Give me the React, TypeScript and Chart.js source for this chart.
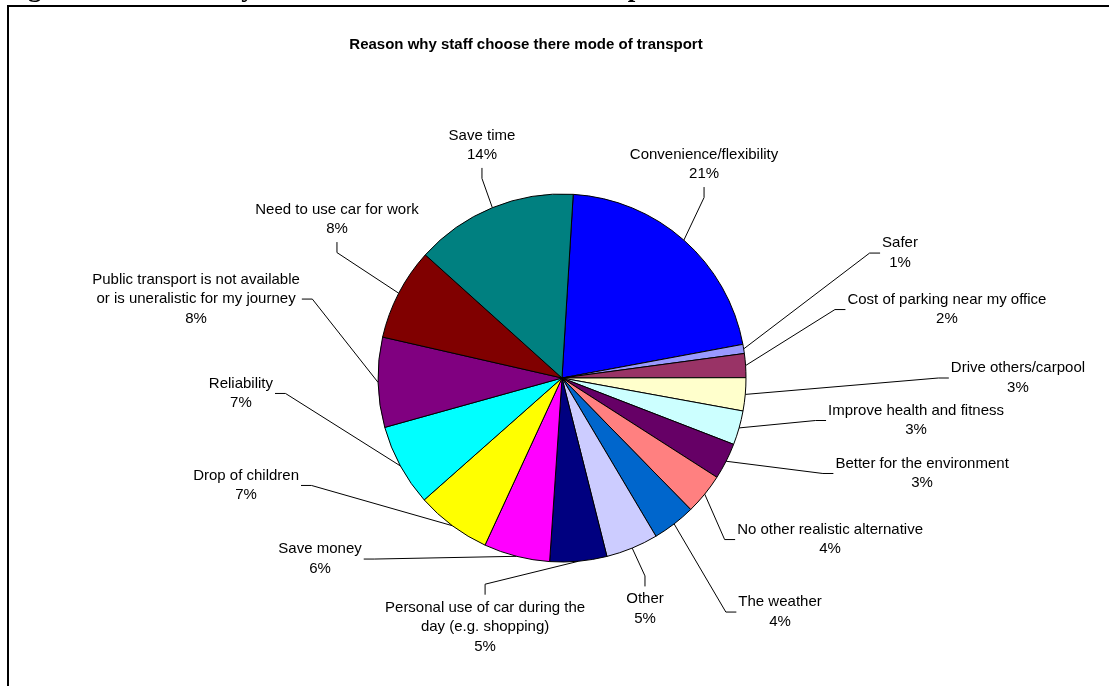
import React, { useEffect, useRef } from "react";
import { Chart, registerables } from "chart.js";

Chart.register(...registerables);

// ---- data ----
const CATEGORIES: string[] = [
  "Convenience/flexibility",
  "Safer",
  "Cost of parking near my office",
  "Drive others/carpool",
  "Improve health and fitness",
  "Better for the environment",
  "No other realistic alternative",
  "The weather",
  "Other",
  "Personal use of car during the\nday (e.g. shopping)",
  "Save money",
  "Drop of children",
  "Reliability",
  "Public transport is not available\nor is uneralistic for my journey",
  "Need to use car for work",
  "Save time",
];

const VALUES: number[] = [
  21.1, 0.8, 2.1, 2.9, 3.0, 3.2, 3.6, 3.8, 4.6, 5.0, 5.8, 6.6, 7.2, 7.9, 8.1, 14.3,
];

const COLORS: string[] = [
  "#0000FF",
  "#9999FF",
  "#993366",
  "#FFFFCC",
  "#CCFFFF",
  "#660066",
  "#FF8080",
  "#0066CC",
  "#CCCCFF",
  "#000080",
  "#FF00FF",
  "#FFFF00",
  "#00FFFF",
  "#800080",
  "#800000",
  "#008080",
];

const TITLE = "Reason why staff choose there mode of transport";
const HEADING = "Figure 1: Reason why staff choose there mode of transport";

// label placement relative to pie centre, in pie radii; side the leader line attaches to
const LABEL_LAYOUT: [number, number, string][] = [
  [0.772, -1.16, "B"],
  [1.837, -0.679, "L"],
  [2.092, -0.372, "L"],
  [2.478, 0.0, "L"],
  [1.924, 0.231, "L"],
  [1.957, 0.519, "L"],
  [1.457, 0.878, "L"],
  [1.185, 1.272, "L"],
  [0.451, 1.255, "T"],
  [-0.418, 1.353, "T"],
  [-1.315, 0.984, "R"],
  [-1.717, 0.584, "R"],
  [-1.745, 0.084, "R"],
  [-1.989, -0.429, "R"],
  [-1.223, -0.861, "B"],
  [-0.435, -1.264, "B"],
];

const FONT = '"Liberation Sans", Arial, Helvetica, sans-serif';
const LH = 19.5;
const PADX = 2;
const PADY = 3;
const ELBOW = 10.5;

const outerLabels = {
  id: "outerLabels",
  afterDraw(chart: any) {
    const ctx: CanvasRenderingContext2D = chart.ctx;
    const meta = chart.getDatasetMeta(0);
    const data = chart.data.datasets[0].data as number[];
    const total = data.reduce((a, b) => a + b, 0);
    ctx.save();
    ctx.fillStyle = "#000";
    ctx.textAlign = "center";
    ctx.textBaseline = "middle";
    ctx.font = `bold 15px ${FONT}`;
    ctx.fillText(TITLE, 526, 45);

    ctx.font = `15px ${FONT}`;
    ctx.strokeStyle = "#000";
    ctx.lineWidth = 1;
    meta.data.forEach((el: any, i: number) => {
      const p = el.getProps(["x", "y", "startAngle", "endAngle", "outerRadius"], true);
      const mid = (p.startAngle + p.endAngle) / 2;
      const R = p.outerRadius;
      const sx = p.x + Math.cos(mid) * R;
      const sy = p.y + Math.sin(mid) * R;
      const [kx, ky, side] = LABEL_LAYOUT[i];
      const cx = p.x + kx * R;
      const cy = p.y + ky * R;
      const lines = [...CATEGORIES[i].split("\n"), Math.round((data[i] / total) * 100) + "%"];
      const w = Math.max(...lines.map((l) => ctx.measureText(l).width));
      const h = lines.length * LH;
      let ax = cx, ay = cy, ex = cx, ey = cy;
      if (side === "L") {
        ax = cx - w / 2 - PADX; ay = cy; ex = ax - ELBOW; ey = ay;
      } else if (side === "R") {
        ax = cx + w / 2 + PADX; ay = cy; ex = ax + ELBOW; ey = ay;
      } else if (side === "T") {
        ax = cx; ay = cy - h / 2 - PADY; ex = ax; ey = ay - ELBOW;
      } else {
        ax = cx; ay = cy + h / 2 + PADY; ex = ax; ey = ay + ELBOW;
      }
      ctx.beginPath();
      ctx.moveTo(sx, sy);
      ctx.lineTo(ex, ey);
      ctx.lineTo(ax, ay);
      ctx.stroke();
      lines.forEach((l, j) => {
        ctx.fillText(l, cx, cy - ((lines.length - 1) / 2) * LH + j * LH);
      });
    });
    ctx.restore();
  },
};

export default function App() {
  const ref = useRef<HTMLCanvasElement | null>(null);
  useEffect(() => {
    if (!ref.current) return;
    const chart = new Chart(ref.current, {
      type: "pie",
      data: {
        labels: CATEGORIES,
        datasets: [
          {
            data: VALUES,
            backgroundColor: COLORS,
            borderColor: "#000",
            borderWidth: 1,
          },
        ],
      },
      options: {
        responsive: false,
        animation: false,
        rotation: 3.5,
        layout: { padding: { left: 377.5, top: 193.5, right: 362.5, bottom: 123.5 } },
        plugins: {
          legend: { display: false },
          tooltip: { enabled: false },
          title: { display: false },
        },
      },
      plugins: [outerLabels],
    });
    return () => chart.destroy();
  }, []);

  return (
    <div style={{ position: "fixed", left: 0, top: 0, width: 1109, height: 686, overflow: "hidden", background: "#fff" }}>
      <canvas ref={ref} width={1109} height={686} style={{ position: "absolute", left: 0, top: 0, width: 1109, height: 686 }} />
      <div
        style={{
          position: "absolute",
          left: 4,
          top: -26,
          fontFamily: '"Liberation Serif", "Times New Roman", serif',
          fontWeight: "bold",
          fontSize: 27,
          lineHeight: "27px",
          whiteSpace: "nowrap",
          color: "#000",
        }}
      >
        {HEADING}
      </div>
      <div
        style={{
          position: "absolute",
          left: 7,
          top: 5,
          width: 1300,
          height: 900,
          borderLeft: "2px solid #000",
          borderTop: "2px solid #000",
          pointerEvents: "none",
        }}
      />
    </div>
  );
}
